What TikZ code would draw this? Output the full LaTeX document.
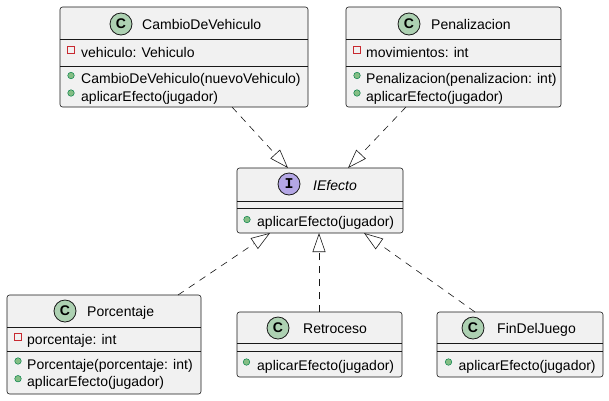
\documentclass[tikz,border=0pt]{standalone}
\usepackage{fontspec}
\setmainfont{Liberation Sans}
\newfontfamily\iconmono{Liberation Mono}
\usetikzlibrary{arrows.meta}
\definecolor{boxfill}{HTML}{F1F1F1}
\definecolor{boxline}{HTML}{181818}
\definecolor{circC}{HTML}{ADD1B2}
\definecolor{circI}{HTML}{B4A7E5}
\definecolor{privc}{HTML}{C82930}
\definecolor{pubfill}{HTML}{84BE84}
\definecolor{publine}{HTML}{038048}
\tikzset{
  cls/.style={draw=boxline, fill=boxfill, line width=0.6pt, rounded corners=2.5pt, inner sep=0pt},
  sep/.style={draw=boxline, line width=0.6pt},
  ico/.style={circle, draw=boxline, line width=0.8pt, minimum size=22pt, inner sep=0pt, font=\fontsize{14}{14}\selectfont\bfseries},
  ttl/.style={anchor=base west, inner sep=0pt, font=\fontsize{14}{16}\selectfont},
  mem/.style={anchor=base west, inner sep=0pt, font=\fontsize{14}{16}\selectfont},
  priv/.style={draw=privc, line width=0.8pt, minimum size=6.5pt, inner sep=0pt},
  pub/.style={circle, draw=publine, fill=pubfill, line width=0.5pt, minimum size=6.5pt, inner sep=0pt},
  real/.style={draw=boxline, line width=0.6pt, dash pattern=on 7pt off 6pt, -{Triangle[open, length=19pt, width=13pt, line width=0.6pt]}}
}
\begin{document}
\begin{tikzpicture}[x=1pt, y=-1pt]
\useasboundingbox (0,0) rectangle (609,400);

% CambioDeVehiculo
\node[cls, minimum width=248pt, minimum height=100pt] (cambio) at (184,57) {};
\draw[sep] (60,39) -- (308,39);
\draw[sep] (60,66) -- (308,66);
\node[ico, fill=circC] (cambioI) at (121,24) {C};
\node[ttl] (cambioT) at (142,29.5) {CambioDeVehiculo};
\node[priv] (cambioA1i) at (71,50) {};
\node[mem] (cambioA1) at (81,57.5) {vehiculo: Vehiculo};
\node[pub] (cambioM1i) at (71,75.5) {};
\node[mem] (cambioM1) at (81,83.5) {CambioDeVehiculo(nuevoVehiculo)};
\node[pub] (cambioM2i) at (71,93) {};
\node[mem] (cambioM2) at (81,101) {aplicarEfecto(jugador)};

% Penalizacion
\node[cls, minimum width=215pt, minimum height=100pt] (pen) at (453.5,57) {};
\draw[sep] (346,39) -- (561,39);
\draw[sep] (346,66) -- (561,66);
\node[ico, fill=circC] (penI) at (409,24) {C};
\node[ttl] (penT) at (431,29.5) {Penalizacion};
\node[priv] (penA1i) at (357,50) {};
\node[mem] (penA1) at (366,57.5) {movimientos: int};
\node[pub] (penM1i) at (357,75.5) {};
\node[mem] (penM1) at (366,83.5) {Penalizacion(penalizacion: int)};
\node[pub] (penM2i) at (357,93) {};
\node[mem] (penM2) at (366,101) {aplicarEfecto(jugador)};

% IEfecto
\node[cls, minimum width=166pt, minimum height=65pt] (ief) at (320,200.5) {};
\draw[sep] (237,201) -- (403,201);
\draw[sep] (237,208) -- (403,208);
\node[ico, fill=circI, font=\fontsize{15}{15}\selectfont\iconmono\bfseries] (iefI) at (289,184) {I};
\node[ttl, font=\fontsize{14}{16}\selectfont\itshape] (iefT) at (313,190.7) {IEfecto};
\node[pub] (iefM1i) at (247,219.5) {};
\node[mem] (iefM1) at (257,226.7) {aplicarEfecto(jugador)};

% Porcentaje
\node[cls, minimum width=194pt, minimum height=99pt] (por) at (104,344.5) {};
\draw[sep] (7,327) -- (201,327);
\draw[sep] (7,351) -- (201,351);
\node[ico, fill=circC] (porI) at (65,311) {C};
\node[ttl] (porT) at (87,316) {Porcentaje};
\node[priv] (porA1i) at (18,337) {};
\node[mem] (porA1) at (27,344.3) {porcentaje: int};
\node[pub] (porM1i) at (18,361) {};
\node[mem] (porM1) at (27,369) {Porcentaje(porcentaje: int)};
\node[pub] (porM2i) at (18,378.7) {};
\node[mem] (porM2) at (27,386.7) {aplicarEfecto(jugador)};

% Retroceso
\node[cls, minimum width=165pt, minimum height=65pt] (ret) at (319.5,344.5) {};
\draw[sep] (237,343) -- (402,343);
\draw[sep] (237,351) -- (402,351);
\node[ico, fill=circC] (retI) at (278,328) {C};
\node[ttl] (retT) at (303,333.3) {Retroceso};
\node[pub] (retM1i) at (246.5,362) {};
\node[mem] (retM1) at (257,370) {aplicarEfecto(jugador)};

% FinDelJuego
\node[cls, minimum width=166pt, minimum height=65pt] (fin) at (520,344.5) {};
\draw[sep] (437,343) -- (603,343);
\draw[sep] (437,351) -- (603,351);
\node[ico, fill=circC] (finI) at (473,328) {C};
\node[ttl] (finT) at (497,333.3) {FinDelJuego};
\node[pub] (finM1i) at (448.5,362) {};
\node[mem] (finM1) at (458.5,370) {aplicarEfecto(jugador)};

% connectors (realization)
\coordinate (cambioS) at (232,107);
\coordinate (iefN1) at (288,168);
\coordinate (penS) at (406,107);
\coordinate (iefN2) at (348,168);
\coordinate (porN) at (178,295);
\coordinate (iefS1) at (270,233);
\coordinate (retN) at (319,312);
\coordinate (iefS2) at (319,233);
\coordinate (finN) at (475,312);
\coordinate (iefS3) at (364,233);
\draw[real] (cambioS) -- (iefN1);
\draw[real] (penS) -- (iefN2);
\draw[real] (porN) -- (iefS1);
\draw[real] (retN) -- (iefS2);
\draw[real] (finN) -- (iefS3);
\end{tikzpicture}
\end{document}
